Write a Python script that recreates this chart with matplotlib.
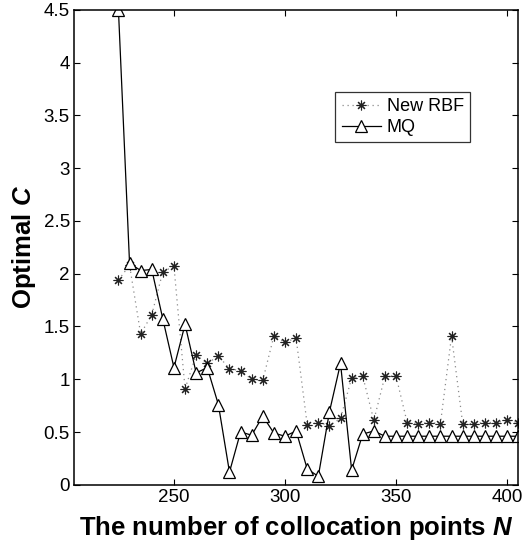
import matplotlib
matplotlib.use("Agg")
import matplotlib.pyplot as plt

plt.rcParams["font.family"] = ["Liberation Sans", "DejaVu Sans"]
plt.rcParams["mathtext.fontset"] = "custom"
plt.rcParams["mathtext.rm"] = "Liberation Sans"
plt.rcParams["mathtext.it"] = "Liberation Sans:italic"
plt.rcParams["mathtext.bf"] = "Liberation Sans:bold"
plt.rcParams["mathtext.bfit"] = "Liberation Sans:italic:bold"

# Number of collocation points
n_points = list(range(225, 406, 5))

# Optimal shape parameter for each method
c_new_rbf = [1.94, 2.08, 1.43, 1.61, 2.02, 2.07, 0.91, 1.23, 1.15, 1.22,
             1.10, 1.08, 1.00, 0.99, 1.41, 1.35, 1.39, 0.57, 0.59, 0.56,
             0.63, 1.01, 1.03, 0.61, 1.03, 1.03, 0.59, 0.58, 0.59, 0.58,
             1.41, 0.58, 0.58, 0.59, 0.59, 0.61, 0.59]
c_mq = [4.50, 2.10, 2.03, 2.04, 1.57, 1.11, 1.52, 1.06, 1.11, 0.76,
        0.12, 0.50, 0.47, 0.65, 0.49, 0.46, 0.51, 0.15, 0.08, 0.69,
        1.15, 0.14, 0.48, 0.51, 0.46, 0.46, 0.46, 0.46, 0.46, 0.46,
        0.46, 0.46, 0.46, 0.46, 0.46, 0.46, 0.46]

x_ticks = [250, 300, 350, 400]
y_ticks = [0, 0.5, 1, 1.5, 2, 2.5, 3, 3.5, 4, 4.5]
y_tick_labels = ["0", "0.5", "1", "1.5", "2", "2.5", "3", "3.5", "4", "4.5"]

fig = plt.figure(figsize=(5.25, 5.49), dpi=100)
ax = fig.add_axes([0.141, 0.117, 0.846, 0.865])

ax.plot(n_points, c_new_rbf, linestyle=(0, (1, 3)), color="#8a8a8a",
        linewidth=0.9, marker=(8, 2, 0), markersize=7,
        markeredgecolor="#222222", markeredgewidth=0.8, label="New RBF")
ax.plot(n_points, c_mq, linestyle="-", color="black", linewidth=0.9,
        marker="^", markersize=8, markerfacecolor="white",
        markeredgecolor="black", markeredgewidth=0.9, label="MQ")

ax.set_xlim(205, 405)
ax.set_ylim(0, 4.5)
ax.set_xticks(x_ticks)
ax.set_yticks(y_ticks)
ax.set_yticklabels(y_tick_labels)
ax.tick_params(direction="in", top=True, right=True, length=4, width=0.8,
               labelsize=13.5, colors="black", pad=3)
for s in ax.spines.values():
    s.set_linewidth(1.1)

ax.set_xlabel(r"The number of collocation points $\mathbfit{N}$",
              fontsize=18.5, fontweight="bold", labelpad=6)
ax.set_ylabel(r"Optimal $\mathbfit{C}$", fontsize=18.5, fontweight="bold",
              labelpad=4)

leg = ax.legend(loc="upper left", bbox_to_anchor=(0.588, 0.827),
                fontsize=13, frameon=True, fancybox=False, edgecolor="black",
                handlelength=2.2, handletextpad=0.3, borderpad=0.35,
                labelspacing=0.2, borderaxespad=0)
leg.get_frame().set_linewidth(0.9)

fig.savefig("out.png", dpi=100)
